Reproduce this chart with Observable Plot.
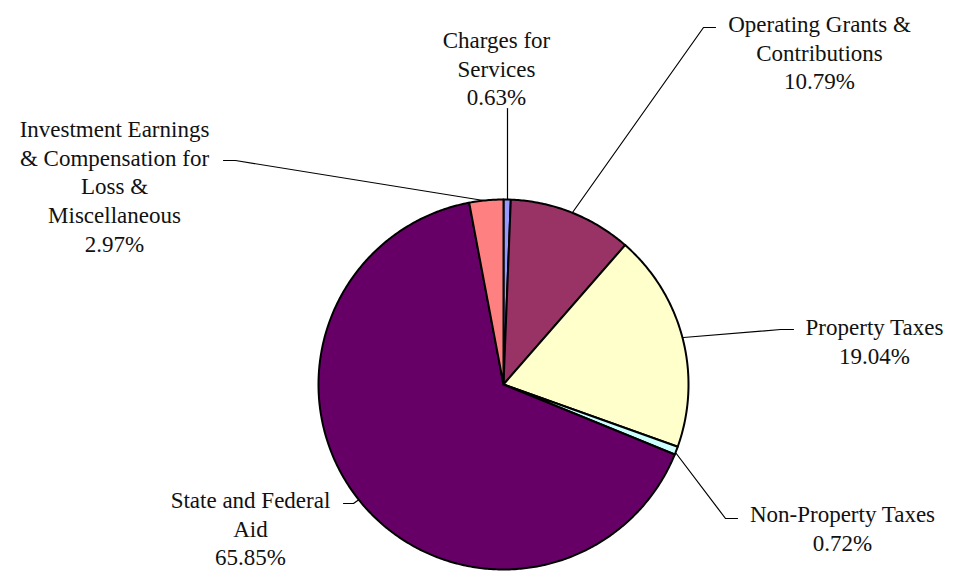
<!DOCTYPE html>
<html>
<head>
<meta charset="utf-8">
<script src="https://cdn.jsdelivr.net/npm/d3@7"></script>
<script src="https://cdn.jsdelivr.net/npm/@observablehq/plot@0.6"></script>
<style>
  html, body { margin: 0; padding: 0; background: #fff; }
  #chart { width: 956px; height: 574px; }
</style>
</head>
<body>
<div id="chart"></div>
<script>
// Data
const categories = ["Charges for Services", "Operating Grants & Contributions", "Property Taxes", "Non-Property Taxes", "State and Federal Aid", "Investment Earnings & Compensation for Loss & Miscellaneous"];
const shares = [0.63, 10.79, 19.04, 0.72, 65.85, 2.97];
const labelTexts = [
  "Charges for\nServices\n0.63%",
  "Operating Grants &\nContributions\n10.79%",
  "Property Taxes\n19.04%",
  "Non-Property Taxes\n0.72%",
  "State and Federal\nAid\n65.85%",
  "Investment Earnings\n& Compensation for\nLoss &\nMiscellaneous\n2.97%"
];
const sliceColors = ["#9999FF", "#993366", "#FFFFCC", "#CCFFFF", "#660066", "#FF8080"];

// Layout
const W = 956, H = 574;
const cx = 503, cy = 384, R = 185;
const labelPos = [[496, 27], [819, 11], [874, 314], [842, 501], [250, 487], [114, 116]];
const leaderPaths = [
  [[507, 108], [507, 199]],
  [[572, 212], [703, 27], [715, 27]],
  [[683, 337], [780, 329], [793, 329]],
  [[675, 452], [725, 518], [737, 518]],
  [[360, 498], [353, 503], [343, 503]],
  [[483, 200], [235, 160], [223, 160]]
];

const arcs = d3.pie().sort(null).value(d => d)(shares);
const slicePts = [];
arcs.forEach((a, i) => {
  slicePts.push({name: categories[i], x: cx, y: cy});
  const n = Math.max(2, Math.ceil((a.endAngle - a.startAngle) / 0.01));
  for (let k = 0; k <= n; k++) {
    const t = a.startAngle + (a.endAngle - a.startAngle) * k / n;
    slicePts.push({name: categories[i], x: cx + R * Math.sin(t), y: cy - R * Math.cos(t)});
  }
});

const leaderPts = [];
leaderPaths.forEach((p, i) => p.forEach(([x, y]) => leaderPts.push({name: categories[i], x, y})));

const labels = categories.map((c, i) => ({name: c, text: labelTexts[i], x: labelPos[i][0], y: labelPos[i][1]}));

const chart = Plot.plot({
  width: W, height: H,
  margin: 0,
  x: {domain: [0, W], range: [0, W], axis: null},
  y: {domain: [0, H], range: [0, H], axis: null},
  color: {domain: categories, range: sliceColors},
  style: {background: "#fff"},
  marks: [
    Plot.line(leaderPts, {x: "x", y: "y", z: "name", stroke: "black", strokeWidth: 1.2}),
    Plot.line(slicePts, {x: "x", y: "y", z: "name", fill: "name", stroke: "black", strokeWidth: 2, strokeLinejoin: "round", curve: "linear-closed"}),
    Plot.text(labels, {x: "x", y: "y", text: "text", fontSize: 23, fontFamily: "'Liberation Serif', 'Times New Roman', serif", lineHeight: 1.25, lineAnchor: "top", textAnchor: "middle", fill: "#111"})
  ]
});
document.getElementById("chart").appendChild(chart);
</script>
</body>
</html>
